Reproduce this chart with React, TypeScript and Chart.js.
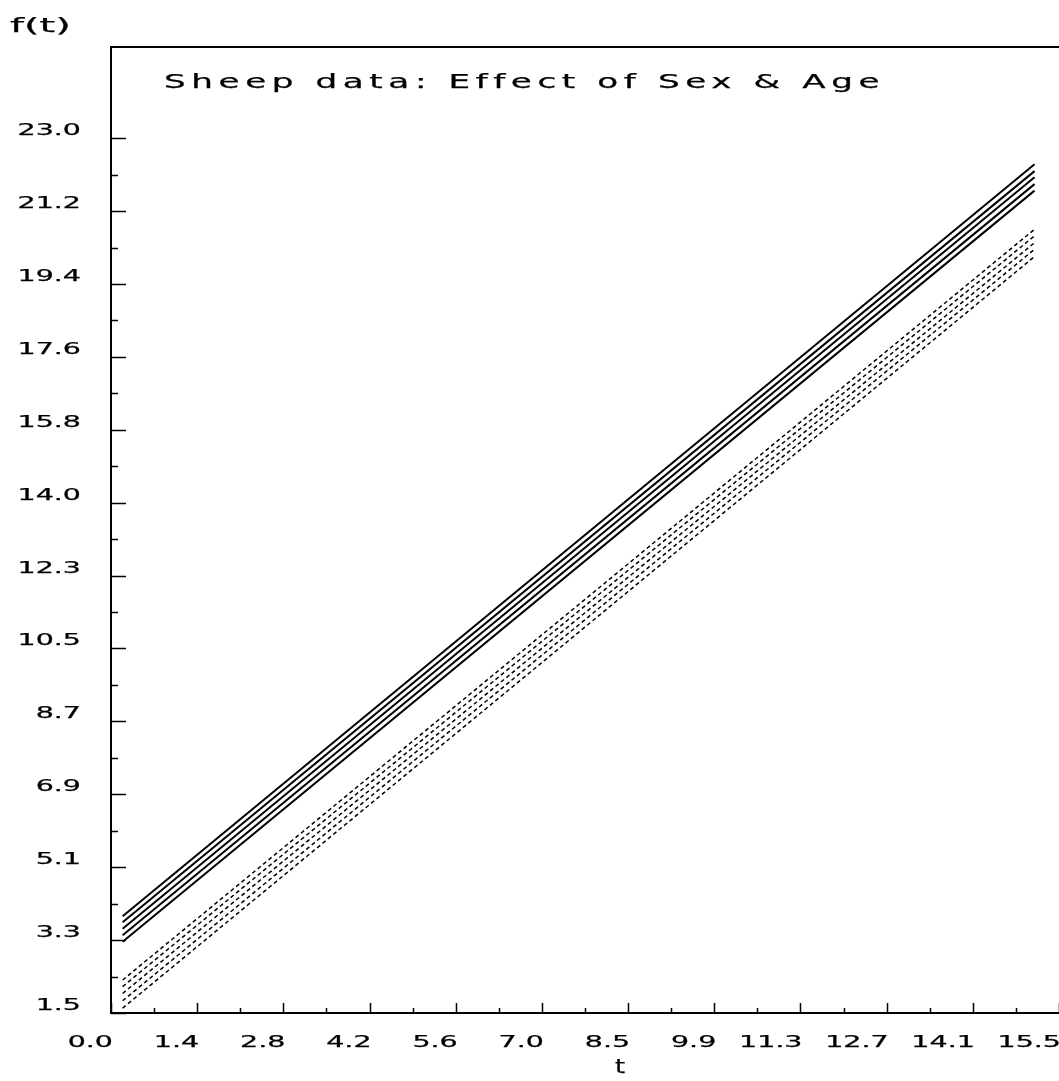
import { useEffect, useRef } from "react";
import { Chart, registerables } from "chart.js";

Chart.register(...registerables);

// Fitted growth lines over t: start and end values for each line
const tSpan = [0.19, 15.1];
const upperStart = [3.25, 3.41, 3.57, 3.73, 3.88];
const upperEnd = [21.71, 21.87, 22.04, 22.19, 22.36];
const lowerStart = [1.62, 1.8, 1.98, 2.15, 2.31];
const lowerEnd = [20.09, 20.27, 20.43, 20.6, 20.76];

// Axis ticks
const xTickValues = [0, 1.409, 2.818, 4.227, 5.636, 7.045, 8.455, 9.864, 11.273, 12.682, 14.091, 15.5];
const xTickLabels = ["0.0", "1.4", "2.8", "4.2", "5.6", "7.0", "8.5", "9.9", "11.3", "12.7", "14.1", "15.5"];
const yTickValues = [1.5, 3.292, 5.083, 6.875, 8.667, 10.458, 12.25, 14.042, 15.833, 17.625, 19.417, 21.208, 23.0];
const yTickLabels = ["1.5", "3.3", "5.1", "6.9", "8.7", "10.5", "12.3", "14.0", "15.8", "17.6", "19.4", "21.2", "23.0"];

const TITLE = "Sheep data: Effect of Sex & Age";
const X_TITLE = "t";
const Y_TITLE = "f(t)";

const FONT = '"DejaVu Sans", sans-serif';
const INK = "#000";

function stretchText(
  ctx: CanvasRenderingContext2D,
  text: string,
  x: number,
  y: number,
  size: number,
  sx: number,
  align: CanvasTextAlign,
  spacing = 0
) {
  ctx.save();
  ctx.font = `${size}px ${FONT}`;
  ctx.fillStyle = INK;
  ctx.strokeStyle = INK;
  ctx.lineWidth = 0.25;
  ctx.textAlign = align;
  ctx.textBaseline = "alphabetic";
  (ctx as any).letterSpacing = `${spacing}px`;
  ctx.translate(x, y);
  ctx.scale(sx, 1);
  ctx.fillText(text, 0, 0);
  ctx.strokeText(text, 0, 0);
  ctx.restore();
}

// Plot frame top edge, inward tick marks, tick labels and titles
const framePlugin = {
  id: "frame",
  afterDraw(chart: any) {
    const { ctx, chartArea } = chart;
    const { left, right, top, bottom } = chartArea;
    const xs = chart.scales.x;
    const ys = chart.scales.y;

    ctx.save();
    ctx.strokeStyle = INK;
    ctx.lineWidth = 2;
    ctx.beginPath();
    ctx.moveTo(left - 1, top);
    ctx.lineTo(right, top);
    ctx.stroke();

    ctx.lineWidth = 1.5;
    ctx.beginPath();
    yTickValues.forEach((v, i) => {
      const py = Math.round(ys.getPixelForValue(v)) + 0.5;
      ctx.moveTo(left, py);
      ctx.lineTo(left + 15, py);
      if (i < yTickValues.length - 1) {
        const pm = Math.round(ys.getPixelForValue((v + yTickValues[i + 1]) / 2)) + 0.5;
        ctx.moveTo(left, pm);
        ctx.lineTo(left + 7, pm);
      }
    });
    xTickValues.forEach((v, i) => {
      const px = Math.round(xs.getPixelForValue(v)) + 0.5;
      ctx.moveTo(px, bottom);
      ctx.lineTo(px, bottom - 10);
      if (i < xTickValues.length - 1) {
        const pm = Math.round(xs.getPixelForValue((v + xTickValues[i + 1]) / 2)) + 0.5;
        ctx.moveTo(pm, bottom);
        ctx.lineTo(pm, bottom - 5);
      }
    });
    ctx.stroke();
    ctx.restore();

    xTickValues.forEach((v, i) => {
      const px = xs.getPixelForValue(v);
      stretchText(ctx, xTickLabels[i], px + 2, bottom + 34, 15, 1.9, "right");
    });
    yTickValues.forEach((v, i) => {
      const py = ys.getPixelForValue(v);
      stretchText(ctx, yTickLabels[i], left - 30, py - 3, 15, 1.9, "right");
    });

    stretchText(ctx, TITLE, left + 53, top + 41, 19, 1.8, "left", 3.1);
    stretchText(ctx, Y_TITLE, 10, 32, 19, 2.1, "left");
    stretchText(ctx, X_TITLE, (left + right) / 2 + 35, bottom + 60, 20, 1.3, "center");
  },
};

function lineSets(starts: number[], ends: number[], dashed: boolean) {
  return starts.map((s, i) => ({
    data: [
      { x: tSpan[0], y: s },
      { x: tSpan[1], y: ends[i] },
    ],
    borderColor: INK,
    borderWidth: dashed ? 1.5 : 2,
    borderDash: dashed ? [4, 3] : [],
    pointRadius: 0,
    fill: false,
    tension: 0,
  }));
}

export default function App() {
  const canvasRef = useRef<HTMLCanvasElement | null>(null);

  useEffect(() => {
    const canvas = canvasRef.current;
    if (!canvas) return;
    const chart = new Chart(canvas, {
      type: "line",
      data: {
        datasets: [...lineSets(upperStart, upperEnd, false), ...lineSets(lowerStart, lowerEnd, true)],
      },
      options: {
        animation: false,
        responsive: false,
        layout: { padding: { top: 47, left: 0, right: 0, bottom: 0 } },
        plugins: {
          legend: { display: false },
          tooltip: { enabled: false },
          title: { display: false },
        },
        scales: {
          x: {
            type: "linear",
            min: 0,
            max: 15.5,
            grid: { display: false },
            border: { display: true, color: INK, width: 2 },
            ticks: { display: false },
            afterBuildTicks: (s: any) => {
              s.ticks = xTickValues.map((v) => ({ value: v }));
            },
            afterFit: (s: any) => {
              s.height = 68;
            },
          },
          y: {
            type: "linear",
            min: 1.5,
            max: 25.24,
            grid: { display: false },
            border: { display: true, color: INK, width: 2 },
            ticks: { display: false },
            afterBuildTicks: (s: any) => {
              s.ticks = yTickValues.map((v) => ({ value: v }));
            },
            afterFit: (s: any) => {
              s.width = 111;
            },
          },
        },
      },
      plugins: [framePlugin],
    });
    return () => chart.destroy();
  }, []);

  return (
    <div style={{ position: "absolute", left: 0, top: 0, width: 1059, height: 1081, background: "#fff" }}>
      <canvas ref={canvasRef} width={1059} height={1081} style={{ display: "block" }} />
    </div>
  );
}
